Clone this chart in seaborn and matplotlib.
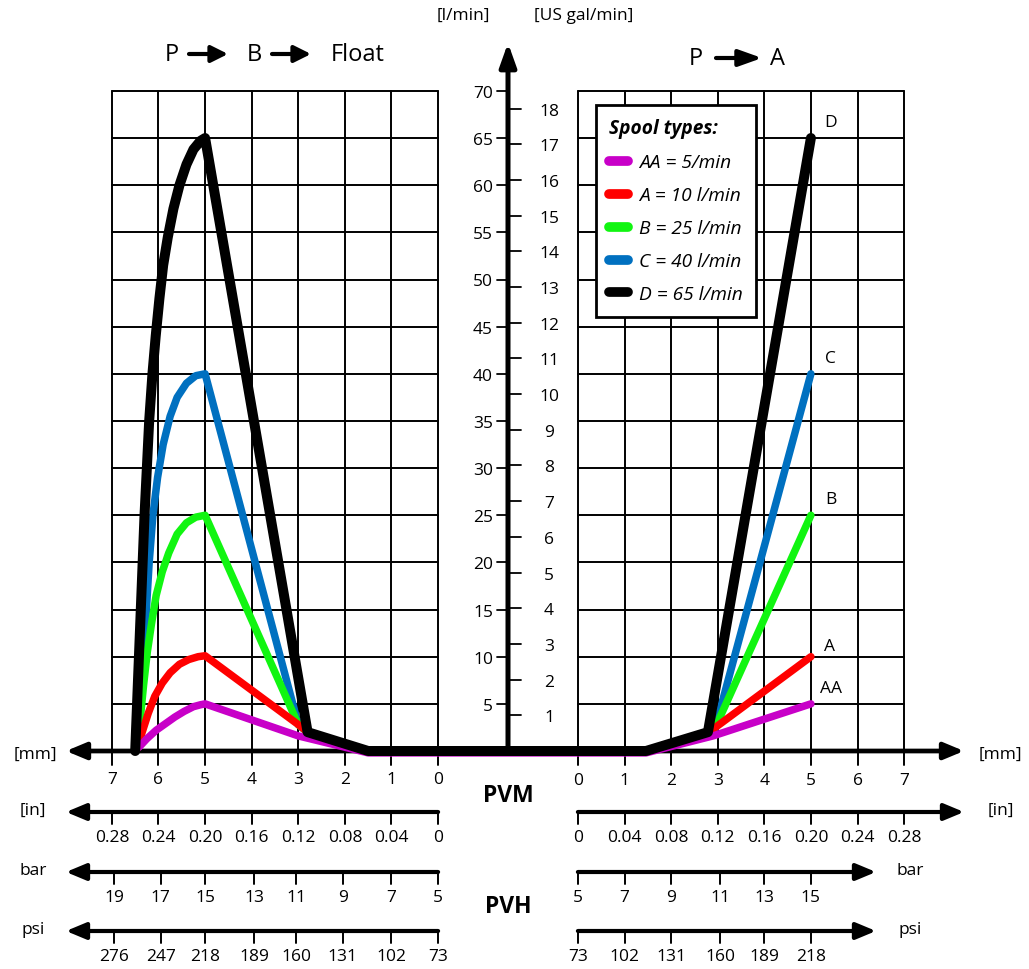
import numpy as np
import pandas as pd
import matplotlib
matplotlib.use('Agg')
import matplotlib.pyplot as plt
import seaborn as sns

# ---------------- data ----------------
flow_ticks = list(range(5, 75, 5))      # l/min on the centre axis
gal_ticks = list(range(1, 19))          # US gal/min on the centre axis
L_PER_GAL = 3.785
mm_ticks = [0, 1, 2, 3, 4, 5, 6, 7]
in_labels = ['0', '0.04', '0.08', '0.12', '0.16', '0.20', '0.24', '0.28']
bar_left = ['19', '17', '15', '13', '11', '9', '7', '5']
psi_left = ['276', '247', '218', '189', '160', '131', '102', '73']
press_left_mm = [6.95, 5.95, 5.0, 3.95, 3.05, 2.05, 1.0, 0.0]
bar_right = ['5', '7', '9', '11', '13', '15']
psi_right = ['73', '102', '131', '160', '189', '218']
press_right_mm = [0.0, 1.0, 2.0, 3.05, 4.0, 5.0]

spools = ['AA', 'A', 'B', 'C', 'D']
spool_labels = ['AA = 5/min', 'A = 10 l/min', 'B = 25 l/min', 'C = 40 l/min', 'D = 65 l/min']
spool_colors = ['#c800c8', '#ff0000', '#11f511', '#0070c0', '#000000']

# P -> B -> Float side : spool stroke [mm], flow [l/min]
aa_b_mm = [6.42, 6.25, 6.05, 5.85, 5.65, 5.45, 5.25, 5.1, 5.0, 3.0, 1.5]
aa_b_q = [0.4, 1.3, 2.2, 2.9, 3.6, 4.2, 4.7, 4.9, 5.0, 1.6, -0.2]
a_b_mm = [6.45, 6.35, 6.22, 6.08, 5.92, 5.75, 5.55, 5.35, 5.15, 5.0, 3.0, 2.8, 1.5]
a_b_q = [0.3, 2.0, 4.0, 5.8, 7.2, 8.3, 9.2, 9.7, 10.0, 10.1, 2.8, 2.0, 0.0]
b_b_mm = [6.45, 6.39, 6.32, 6.24, 6.15, 6.05, 5.92, 5.78, 5.6, 5.4, 5.2, 5.0, 3.0, 2.8, 1.5]
b_b_q = [0.3, 3.5, 7.0, 10.5, 13.5, 16.5, 19.0, 21.0, 23.0, 24.2, 24.8, 25.0, 2.8, 2.0, 0.0]
c_b_mm = [6.45, 6.38, 6.32, 6.26, 6.2, 6.12, 6.02, 5.9, 5.75, 5.6, 5.4, 5.2, 5.0, 3.0, 2.8, 1.5]
c_b_q = [0.3, 5.0, 10.0, 15.0, 20.0, 25.0, 29.0, 32.5, 35.5, 37.5, 39.0, 39.8, 40.0, 2.8, 2.0, 0.0]
d_b_mm = [6.5, 6.46, 6.42, 6.38, 6.34, 6.3, 6.25, 6.2, 6.13, 6.06, 5.98, 5.9, 5.8, 5.68,
          5.55, 5.4, 5.25, 5.1, 5.0, 2.8, 1.5]
d_b_q = [0.0, 5.0, 10.0, 15.0, 20.0, 25.0, 30.0, 35.0, 40.0, 44.0, 48.0, 51.5, 54.5, 57.5,
         60.0, 62.2, 63.8, 64.7, 65.0, 2.0, 0.0]

# P -> A side
aa_a_mm = [1.46, 2.9, 5.0]
aa_a_q = [-0.2, 1.6, 5.0]
a_a_mm = [1.46, 2.79, 2.95, 5.0]
a_a_q = [0.0, 2.0, 2.5, 10.0]
b_a_mm = [1.46, 2.79, 2.95, 5.0]
b_a_q = [0.0, 2.0, 2.5, 25.0]
c_a_mm = [1.46, 2.79, 2.95, 5.0]
c_a_q = [0.0, 2.0, 2.5, 40.0]
d_a_mm = [1.46, 2.79, 5.0]
d_a_q = [0.0, 2.0, 65.0]

left_mm = [aa_b_mm, a_b_mm, b_b_mm, c_b_mm, d_b_mm]
left_q = [aa_b_q, a_b_q, b_b_q, c_b_q, d_b_q]
right_mm = [aa_a_mm, a_a_mm, b_a_mm, c_a_mm, d_a_mm]
right_q = [aa_a_q, a_a_q, b_a_q, c_a_q, d_a_q]

# ---------------- layout helpers ----------------
X0, Y0, SX, SY = 508, 752, 46.6, 9.43   # pixel position of origin, px per mm, px per l/min
GAP = 1.5                               # centre axis to 0 mm, in mm


def ux(px):
    return (px - X0) / SX


def qy(py):
    return (Y0 - py) / SY


sns.set_theme(style='white')
plt.rcParams['font.family'] = ['Open Sans', 'DejaVu Sans']
plt.rcParams['text.color'] = 'black'
FS = 12.5

fig = plt.figure(figsize=(10.29, 9.70), dpi=100)
ax = fig.add_axes([0, 0, 1, 1])


def arrow(x0, y0, x1, y1, lw=3.0, hl=12, hw=5, style='-|>'):
    ax.annotate('', xy=(x1, y1), xytext=(x0, y0), annotation_clip=False,
                arrowprops=dict(arrowstyle=f'{style},head_length={hl / 10},head_width={hw / 10}',
                                mutation_scale=10, lw=lw, color='black', shrinkA=0, shrinkB=0,
                                joinstyle='round', capstyle='round'))


# grids of both panels
for side in (-1, 1):
    for m in mm_ticks:
        u = side * (GAP + m)
        ax.plot([u, u], [qy(766), 70], color='black', lw=1.4, zorder=1)
    for q in flow_ticks:
        ax.plot([side * GAP, side * (GAP + 7)], [q, q], color='black', lw=1.4, zorder=1)

# centre flow axis
arrow(0, 0, 0, qy(44), lw=3.6, hl=14, hw=5)
for q in flow_ticks:
    ax.plot([ux(497), 0], [q, q], color='black', lw=1.3)
    ax.text(ux(493), q, str(q), ha='right', va='center_baseline', fontsize=FS)
for g in gal_ticks:
    q = g * L_PER_GAL
    ax.plot([0, ux(521)], [q, q], color='black', lw=1.3)
    ax.text(ux(549), q, str(g), ha='center', va='center_baseline', fontsize=FS)
ax.text(ux(463), qy(16), '[l/min]', ha='center', va='center', fontsize=FS)
ax.text(ux(584), qy(16), '[US gal/min]', ha='center', va='center', fontsize=FS)

# stroke axis [mm]
arrow(ux(90), 0, ux(66), 0, lw=3.4, hl=12, hw=5)
arrow(ux(90), 0, ux(964), 0, lw=3.4, hl=12, hw=5)
ax.text(ux(35), qy(755), '[mm]', ha='center', va='center', fontsize=FS)
ax.text(ux(1000), qy(755), '[mm]', ha='center', va='center', fontsize=FS)
for m in mm_ticks:
    ax.text(-(GAP + m), qy(780), str(m), ha='center', va='center', fontsize=FS)
    ax.text(GAP + m, qy(781), str(m), ha='center', va='center', fontsize=FS)

# inch / bar / psi scales
rows = [(qy(813), qy(838), in_labels, mm_ticks, in_labels, mm_ticks, '[in]', ux(964)),
        (qy(873), qy(898), bar_left, press_left_mm, bar_right, press_right_mm, 'bar', ux(876)),
        (qy(932), qy(957), psi_left, press_left_mm, psi_right, press_right_mm, 'psi', ux(876))]
for i, (yl, yt, lab_l, pos_l, lab_r, pos_r, unit, tip_r) in enumerate(rows):
    arrow(-GAP, yl, ux(66), yl, lw=3.0, hl=12, hw=5)
    arrow(GAP, yl, tip_r, yl, lw=3.0, hl=12, hw=5)
    tick = 12 / SY
    for lab, m in zip(lab_l, pos_l):
        u = -(GAP + m)
        ax.plot([u, u], [yl, yl - tick], color='black', lw=1.4)
        ax.text(u, yt, lab, ha='center', va='center', fontsize=FS)
    for lab, m in zip(lab_r, pos_r):
        u = GAP + m
        ax.plot([u, u], [yl, yl - tick], color='black', lw=1.4)
        ax.text(u, yt, lab, ha='center', va='center', fontsize=FS)
    ax.text(ux(33), yl + 0.2, unit, ha='center', va='center', fontsize=FS)
    ax.text(ux(1001) if i == 0 else ux(910), yl + 0.2, unit, ha='center', va='center', fontsize=FS)

ax.text(0, qy(796), 'PVM', ha='center', va='center', fontsize=16.5, fontweight='bold')
ax.text(0, qy(907), 'PVH', ha='center', va='center', fontsize=16.5, fontweight='bold')

# panel headings
HFS = 17
ax.text(ux(172), qy(55), 'P', ha='center', va='center', fontsize=HFS)
arrow(ux(189), qy(55), ux(228), qy(55), lw=3.0, hl=10, hw=5)
ax.text(ux(254), qy(55), 'B', ha='center', va='center', fontsize=HFS)
arrow(ux(272), qy(55), ux(311), qy(55), lw=3.0, hl=10, hw=5)
ax.text(ux(331), qy(55), 'Float', ha='left', va='center', fontsize=HFS)
ax.text(ux(696), qy(59), 'P', ha='center', va='center', fontsize=HFS)
arrow(ux(716), qy(59), ux(762), qy(59), lw=3.0, hl=14, hw=5)
ax.text(ux(778), qy(59), 'A', ha='center', va='center', fontsize=HFS)

# spool curves: C, B, A, AA underneath, D on top
handles = {}
for idx in [3, 2, 1, 0, 4]:
    u = [-(GAP + m) for m in left_mm[idx]] + [GAP + m for m in right_mm[idx]]
    q = left_q[idx] + right_q[idx]
    df = pd.DataFrame({'u': u, 'q': q})
    lw = 7.2 if spools[idx] == 'D' else 5.4
    sns.lineplot(data=df, x='u', y='q', sort=False, color=spool_colors[idx], lw=lw,
                 solid_capstyle='round', solid_joinstyle='round', ax=ax, legend=False, zorder=5)
    handles[idx] = ax.lines[-1]
    offset = (19, 11) if spools[idx] == 'A' else (20, 16)
    ax.annotate(spools[idx], xy=(u[-1], q[-1]), xytext=offset, textcoords='offset pixels',
                ha='center', va='center', fontsize=FS)

ax.set_xlim(ux(0), ux(1029))
ax.set_ylim(qy(970), qy(0))
ax.set_axis_off()

leg = ax.legend([handles[i] for i in range(5)], spool_labels, title='Spool types:',
                loc='upper left', bbox_to_anchor=(596 / 1029, 1 - 106 / 970),
                bbox_transform=fig.transFigure, borderaxespad=0, frameon=True, fancybox=False,
                edgecolor='black', framealpha=1, alignment='left',
                prop=dict(style='italic', size=13.8),
                title_fontproperties=dict(style='italic', weight='bold', size=13.8),
                handlelength=0.95, handletextpad=0.6, labelspacing=0.78, borderpad=0.7)
leg.get_frame().set_linewidth(2)
for h in leg.legend_handles:
    h.set_linewidth(7)
    h.set_solid_capstyle('round')
leg.set_zorder(10)

fig.savefig('out.png', dpi=100)
